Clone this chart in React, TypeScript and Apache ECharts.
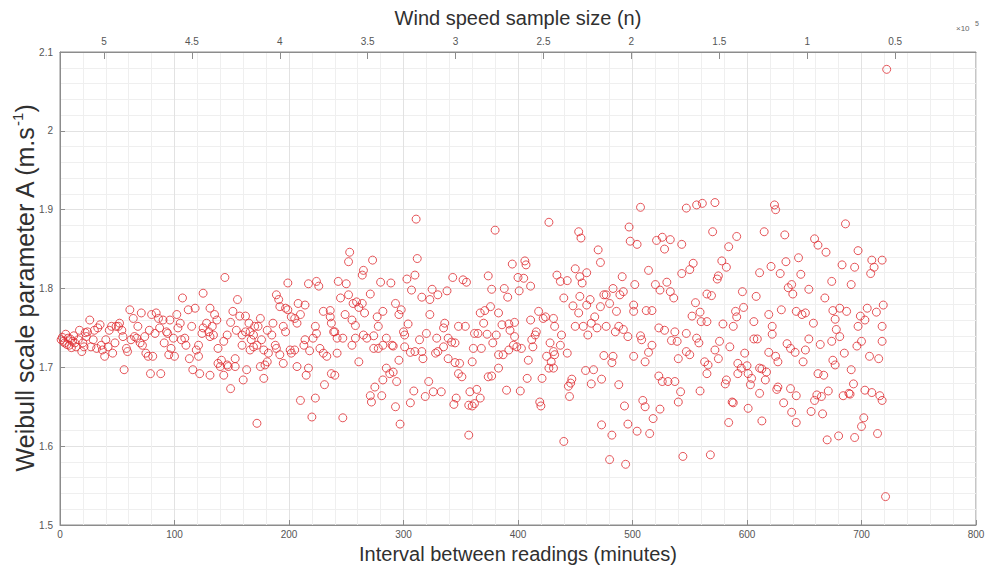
import React, { useEffect, useRef } from "react";
import * as echarts from "echarts";

// Interval between readings (minutes) vs Weibull scale parameter A
const seg0to120: number[][] = [
  [1,1.735],[2,1.738],[3,1.733],[4,1.731],[5,1.742],[6,1.729],[7,1.737],[8,1.728],[9,1.736],[10,1.725],
  [11,1.733],[12,1.740],[13,1.731],[14,1.726],[16,1.735],[17,1.747],[19,1.720],[20,1.731],[21,1.726],[22,1.744],
  [23,1.739],[24,1.745],[26,1.760],[27,1.726],[29,1.735],[30,1.747],[32,1.724],[33,1.750],[35,1.754],[36,1.728],
  [37,1.722],[39,1.714],[40,1.735],[42,1.726],[43,1.747],[45,1.752],[46,1.718],[48,1.731],[49,1.752],[51,1.752],
  [52,1.756],[54,1.747],[55,1.739],[56,1.697],[58,1.724],[59,1.720],[61,1.773],[62,1.735],[64,1.762],[65,1.739],
  [67,1.737],[68,1.752],[70,1.731],[71,1.769],[72,1.728],[74,1.739],[75,1.718],[77,1.714],[78,1.747],[80,1.767],
  [79,1.692],[81,1.714],[83,1.743],[84,1.769],[86,1.762],[87,1.750],[88,1.692],[90,1.760],[91,1.731],[93,1.745],
  [94,1.743],[96,1.760],[95,1.716],[97,1.724],[99,1.737],[100,1.714],[102,1.767],[103,1.750],[105,1.756],[106,1.735],
  [107,1.788],[109,1.737],[110,1.728],[112,1.773],[113,1.711],[115,1.752],[116,1.697],[118,1.775],[119,1.722]
];
const seg120to240: number[][] = [
  [144,1.814],[125,1.794],[155,1.786],[131,1.775],[135,1.767],[151,1.771],[157,1.765],[162,1.765],[137,1.760],[128,1.756],
  [133,1.752],[125,1.750],[124,1.743],[130,1.745],[131,1.739],[149,1.757],[165,1.756],[154,1.747],[146,1.741],[143,1.733],
  [162,1.745],[166,1.745],[170,1.752],[175,1.762],[173,1.752],[181,1.747],[186,1.756],[185,1.741],[189,1.792],[191,1.786],
  [192,1.777],[197,1.775],[195,1.752],[197,1.745],[199,1.773],[199,1.807],[202,1.764],[205,1.762],[207,1.756],[210,1.767],
  [208,1.781],[214,1.779],[217,1.806],[224,1.809],[226,1.803],[230,1.771],[236,1.772],[223,1.752],[224,1.743],[221,1.737],
  [214,1.735],[213,1.728],[218,1.721],[227,1.724],[230,1.718],[233,1.714],[237,1.756],[239,1.745],[121,1.728],[121,1.714],
  [122,1.692],[131,1.690],[138,1.724],[138,1.705],[140,1.701],[141,1.709],[146,1.703],[147,1.701],[143,1.690],[153,1.711],
  [153,1.701],[159,1.728],[160,1.684],[163,1.697],[166,1.722],[167,1.735],[169,1.726],[172,1.728],[176,1.735],[178,1.722],
  [175,1.701],[179,1.703],[181,1.707],[182,1.718],[178,1.686],[188,1.728],[189,1.724],[192,1.716],[195,1.705],[201,1.722],
  [202,1.718],[205,1.722],[207,1.701],[217,1.699],[215,1.690],[231,1.678],[237,1.692],[149,1.673],[210,1.658],[223,1.661],
  [220,1.637],[172,1.629],[159,1.741],[169,1.741],[134,1.741]
];
const seg240to360: number[][] = [
  [311,1.888],[253,1.846],[252,1.834],[273,1.836],[312,1.838],[265,1.823],[264,1.817],[310,1.817],[243,1.809],[250,1.806],
  [280,1.808],[289,1.807],[303,1.812],[307,1.798],[325,1.799],[330,1.792],[338,1.797],[343,1.814],[352,1.811],[355,1.808],
  [245,1.788],[252,1.792],[271,1.793],[259,1.783],[256,1.781],[264,1.781],[261,1.776],[266,1.769],[293,1.781],[298,1.773],
  [296,1.767],[282,1.771],[277,1.764],[316,1.789],[323,1.786],[323,1.767],[236,1.764],[249,1.767],[255,1.760],[258,1.753],
  [240,1.745],[242,1.737],[247,1.737],[255,1.728],[258,1.737],[265,1.741],[268,1.737],[274,1.740],[278,1.752],[285,1.737],
  [290,1.728],[282,1.728],[274,1.724],[278,1.724],[291,1.727],[300,1.745],[301,1.741],[304,1.755],[301,1.726],[306,1.719],
  [310,1.720],[314,1.735],[316,1.720],[317,1.711],[320,1.743],[329,1.737],[330,1.720],[335,1.726],[328,1.718],[336,1.756],
  [335,1.750],[339,1.737],[342,1.732],[345,1.731],[348,1.752],[354,1.752],[339,1.711],[345,1.706],[349,1.705],[348,1.692],
  [351,1.688],[261,1.707],[242,1.718],[240,1.690],[285,1.699],[288,1.692],[291,1.694],[282,1.684],[294,1.682],[275,1.675],
  [271,1.664],[272,1.656],[281,1.664],[293,1.650],[297,1.628],[306,1.655],[309,1.670],[319,1.663],[322,1.682],[326,1.669],
  [333,1.669],[346,1.661],[344,1.653],[357,1.652],[247,1.636],[357,1.614],[296,1.709]
];
const seg360to475: number[][] = [
  [380,1.874],[427,1.884],[453,1.872],[455,1.864],[470,1.849],[472,1.833],[395,1.831],[406,1.835],[407,1.830],[374,1.816],
  [400,1.814],[405,1.813],[434,1.817],[437,1.809],[443,1.810],[450,1.825],[454,1.815],[460,1.820],[456,1.807],[377,1.799],
  [388,1.800],[401,1.797],[411,1.803],[391,1.789],[454,1.790],[440,1.788],[463,1.786],[475,1.792],[376,1.777],[367,1.769],
  [371,1.772],[383,1.769],[418,1.771],[411,1.760],[424,1.764],[422,1.762],[431,1.762],[448,1.778],[460,1.779],[472,1.777],
  [453,1.769],[467,1.764],[464,1.756],[457,1.752],[450,1.752],[469,1.750],[461,1.741],[370,1.756],[362,1.743],[365,1.743],
  [373,1.742],[386,1.754],[392,1.755],[397,1.757],[393,1.747],[381,1.741],[397,1.739],[416,1.745],[415,1.741],[412,1.735],
  [432,1.752],[438,1.741],[361,1.724],[368,1.724],[378,1.731],[383,1.716],[387,1.716],[392,1.722],[396,1.728],[399,1.726],
  [403,1.724],[413,1.726],[428,1.731],[437,1.728],[443,1.718],[431,1.720],[432,1.716],[409,1.709],[425,1.714],[360,1.707],
  [429,1.707],[427,1.699],[431,1.699],[383,1.699],[374,1.688],[377,1.689],[408,1.686],[421,1.686],[358,1.669],[364,1.672],
  [367,1.661],[362,1.654],[360,1.651],[390,1.671],[402,1.670],[419,1.656],[420,1.651],[447,1.685],[446,1.680],[444,1.676],
  [459,1.696],[466,1.697],[464,1.679],[473,1.685],[445,1.663],[473,1.627],[440,1.606],[475,1.715]
];
const seg475to595: number[][] = [
  [507,1.903],[547,1.902],[556,1.906],[561,1.908],[572,1.909],[497,1.878],[570,1.872],[591,1.866],[498,1.860],[504,1.856],
  [521,1.861],[526,1.865],[533,1.862],[528,1.850],[543,1.856],[584,1.853],[578,1.835],[582,1.827],[514,1.823],[543,1.819],
  [550,1.824],[553,1.832],[575,1.816],[574,1.812],[491,1.815],[502,1.805],[520,1.805],[530,1.808],[524,1.798],[533,1.796],
  [536,1.788],[483,1.800],[492,1.796],[477,1.792],[489,1.792],[565,1.793],[569,1.791],[555,1.782],[501,1.779],[501,1.771],
  [512,1.772],[517,1.772],[486,1.771],[480,1.781],[552,1.765],[559,1.770],[560,1.758],[565,1.758],[579,1.755],[590,1.771],
  [591,1.764],[588,1.752],[477,1.752],[485,1.745],[488,1.752],[492,1.748],[496,1.739],[507,1.740],[508,1.735],[523,1.750],
  [528,1.747],[537,1.745],[534,1.734],[539,1.733],[547,1.743],[556,1.737],[558,1.731],[517,1.728],[514,1.719],[511,1.707],
  [501,1.714],[483,1.714],[482,1.706],[547,1.720],[550,1.716],[540,1.711],[563,1.707],[566,1.703],[572,1.722],[575,1.711],
  [576,1.733],[585,1.726],[565,1.692],[582,1.684],[581,1.679],[523,1.689],[526,1.682],[531,1.682],[537,1.682],[542,1.669],
  [540,1.656],[559,1.670],[488,1.678],[592,1.692],[592,1.705],[509,1.658],[511,1.650],[493,1.651],[524,1.647],[518,1.635],
  [496,1.628],[504,1.619],[515,1.616],[482,1.614],[480,1.583],[494,1.577],[544,1.587],[568,1.589],[587,1.656],[588,1.655],
  [584,1.630]
];
const seg595to722: number[][] = [
  [624,1.906],[625,1.900],[686,1.882],[615,1.872],[633,1.868],[659,1.863],[662,1.855],[669,1.846],[697,1.848],[709,1.836],
  [711,1.827],[718,1.836],[611,1.820],[621,1.828],[629,1.819],[634,1.834],[645,1.839],[647,1.818],[683,1.830],[694,1.827],
  [708,1.819],[674,1.809],[691,1.805],[596,1.796],[608,1.790],[636,1.801],[639,1.805],[640,1.793],[654,1.799],[668,1.788],
  [630,1.773],[643,1.771],[648,1.767],[651,1.769],[619,1.767],[597,1.776],[675,1.772],[681,1.775],[687,1.771],[677,1.761],
  [699,1.765],[705,1.775],[703,1.760],[713,1.770],[719,1.779],[606,1.758],[622,1.752],[622,1.742],[658,1.756],[678,1.748],
  [681,1.739],[697,1.752],[718,1.752],[606,1.736],[609,1.736],[635,1.730],[638,1.724],[642,1.719],[651,1.722],[654,1.736],
  [664,1.729],[674,1.733],[685,1.718],[696,1.727],[700,1.733],[707,1.714],[715,1.711],[718,1.733],[598,1.718],[619,1.719],
  [625,1.714],[627,1.707],[649,1.707],[595,1.699],[600,1.702],[601,1.692],[604,1.686],[613,1.698],[617,1.694],[616,1.684],
  [611,1.699],[603,1.678],[662,1.692],[667,1.690],[675,1.709],[677,1.703],[691,1.697],[693,1.679],[627,1.675],[638,1.673],
  [626,1.672],[671,1.670],[661,1.665],[659,1.658],[665,1.663],[684,1.664],[689,1.667],[690,1.666],[703,1.671],[709,1.668],
  [716,1.664],[718,1.658],[601,1.648],[632,1.655],[643,1.664],[611,1.667],[639,1.643],[656,1.644],[666,1.641],[643,1.630],
  [613,1.632],[702,1.636],[700,1.625],[670,1.608],[680,1.613],[694,1.611],[714,1.616],[721,1.536],[722,2.078]
];

const xTitle = "Interval between readings (minutes)";
const topTitle = "Wind speed sample size (n)";
const yTitle = "{a|Weibull scale parameter A (m.s}{b|-1}{a|)}";

const FONT = "'Liberation Sans', Arial, Helvetica, sans-serif";

export default function App() {
  const ref = useRef<HTMLDivElement>(null);
  useEffect(() => {
    document.body.style.margin = "0";
    if (!ref.current) return;
    const chart = echarts.init(ref.current, undefined, { renderer: "svg" });
    const points = [
      ...seg0to120, ...seg120to240, ...seg240to360,
      ...seg360to475, ...seg475to595, ...seg595to722,
    ];
    chart.setOption({
      animation: false,
      backgroundColor: "#ffffff",
      grid: {
        left: 60, right: 14, top: 52, bottom: 42,
        show: true, borderColor: "#8c8c8c", borderWidth: 1, backgroundColor: "#ffffff",
      },
      xAxis: [
        {
          type: "value", position: "bottom", min: 0, max: 800, interval: 100,
          name: xTitle, nameLocation: "middle", nameGap: 19,
          nameTextStyle: { fontSize: 20, color: "#303030", fontFamily: FONT },
          axisLine: { show: true, lineStyle: { color: "#8c8c8c", width: 1 } },
          axisTick: { show: true, inside: true, length: 5, lineStyle: { color: "#8c8c8c" } },
          axisLabel: { color: "#555555", fontSize: 10, margin: 4, fontFamily: FONT },
          splitLine: { show: true, lineStyle: { color: "#e2e2e2", width: 1 } },
          minorTick: { show: true, splitNumber: 5, length: 0 },
          minorSplitLine: { show: true, lineStyle: { color: "#efefef", width: 1 } },
        },
        {
          type: "value", position: "top", min: 0.04, max: 5.25, inverse: true, splitNumber: 10,
          name: topTitle, nameLocation: "middle", nameGap: 24,
          nameTextStyle: { fontSize: 20, color: "#303030", fontFamily: FONT },
          axisLine: { show: true, lineStyle: { color: "#8c8c8c", width: 1 } },
          axisTick: { show: true, inside: true, length: 7, lineStyle: { color: "#8c8c8c" } },
          axisLabel: {
            color: "#555555", fontSize: 10, margin: 6, fontFamily: FONT,
            showMinLabel: false, showMaxLabel: false,
            formatter: (v: number) => {
              const r = Math.round(v * 2) / 2;
              if (Math.abs(v - r) > 1e-6 || r < 0.5 || r > 5) return "";
              return String(r);
            },
          },
          splitLine: { show: false },
        },
      ],
      yAxis: {
        type: "value", min: 1.5, max: 2.1, interval: 0.1,
        name: yTitle, nameLocation: "middle", nameGap: 21, nameRotate: 90,
        nameMoveOverlap: false,
        nameTextStyle: {
          color: "#303030", fontFamily: FONT,
          rich: {
            a: { fontSize: 25, color: "#303030", fontFamily: FONT, lineHeight: 29 },
            b: { fontSize: 15, color: "#303030", fontFamily: FONT, verticalAlign: "top", lineHeight: 17 },
          },
        },
        axisLine: { show: true, lineStyle: { color: "#8c8c8c", width: 1 } },
        axisTick: { show: true, inside: true, length: 5, lineStyle: { color: "#8c8c8c" } },
        axisLabel: {
          color: "#555555", fontSize: 10, margin: 7, fontFamily: FONT,
          formatter: (v: number) => String(Number(v.toFixed(1))),
        },
        splitLine: { show: true, lineStyle: { color: "#e2e2e2", width: 1 } },
        minorTick: { show: true, splitNumber: 5, length: 0 },
        minorSplitLine: { show: true, lineStyle: { color: "#efefef", width: 1 } },
      },
      graphic: [
        { type: "text", left: 956, top: 24, style: { text: "×10", fontSize: 8, fill: "#666666", fontFamily: FONT } },
        { type: "text", left: 975, top: 20, style: { text: "5", fontSize: 7, fill: "#666666", fontFamily: FONT } },
      ],
      series: [
        {
          type: "scatter",
          xAxisIndex: 0, yAxisIndex: 0,
          data: points,
          symbol: "circle",
          symbolSize: 8,
          itemStyle: { color: "rgba(255,255,255,0)", borderColor: "#de2a2f", borderWidth: 1 },
        },
      ],
    });
    return () => chart.dispose();
  }, []);
  return <div ref={ref} style={{ width: 990, height: 569 }} />;
}
